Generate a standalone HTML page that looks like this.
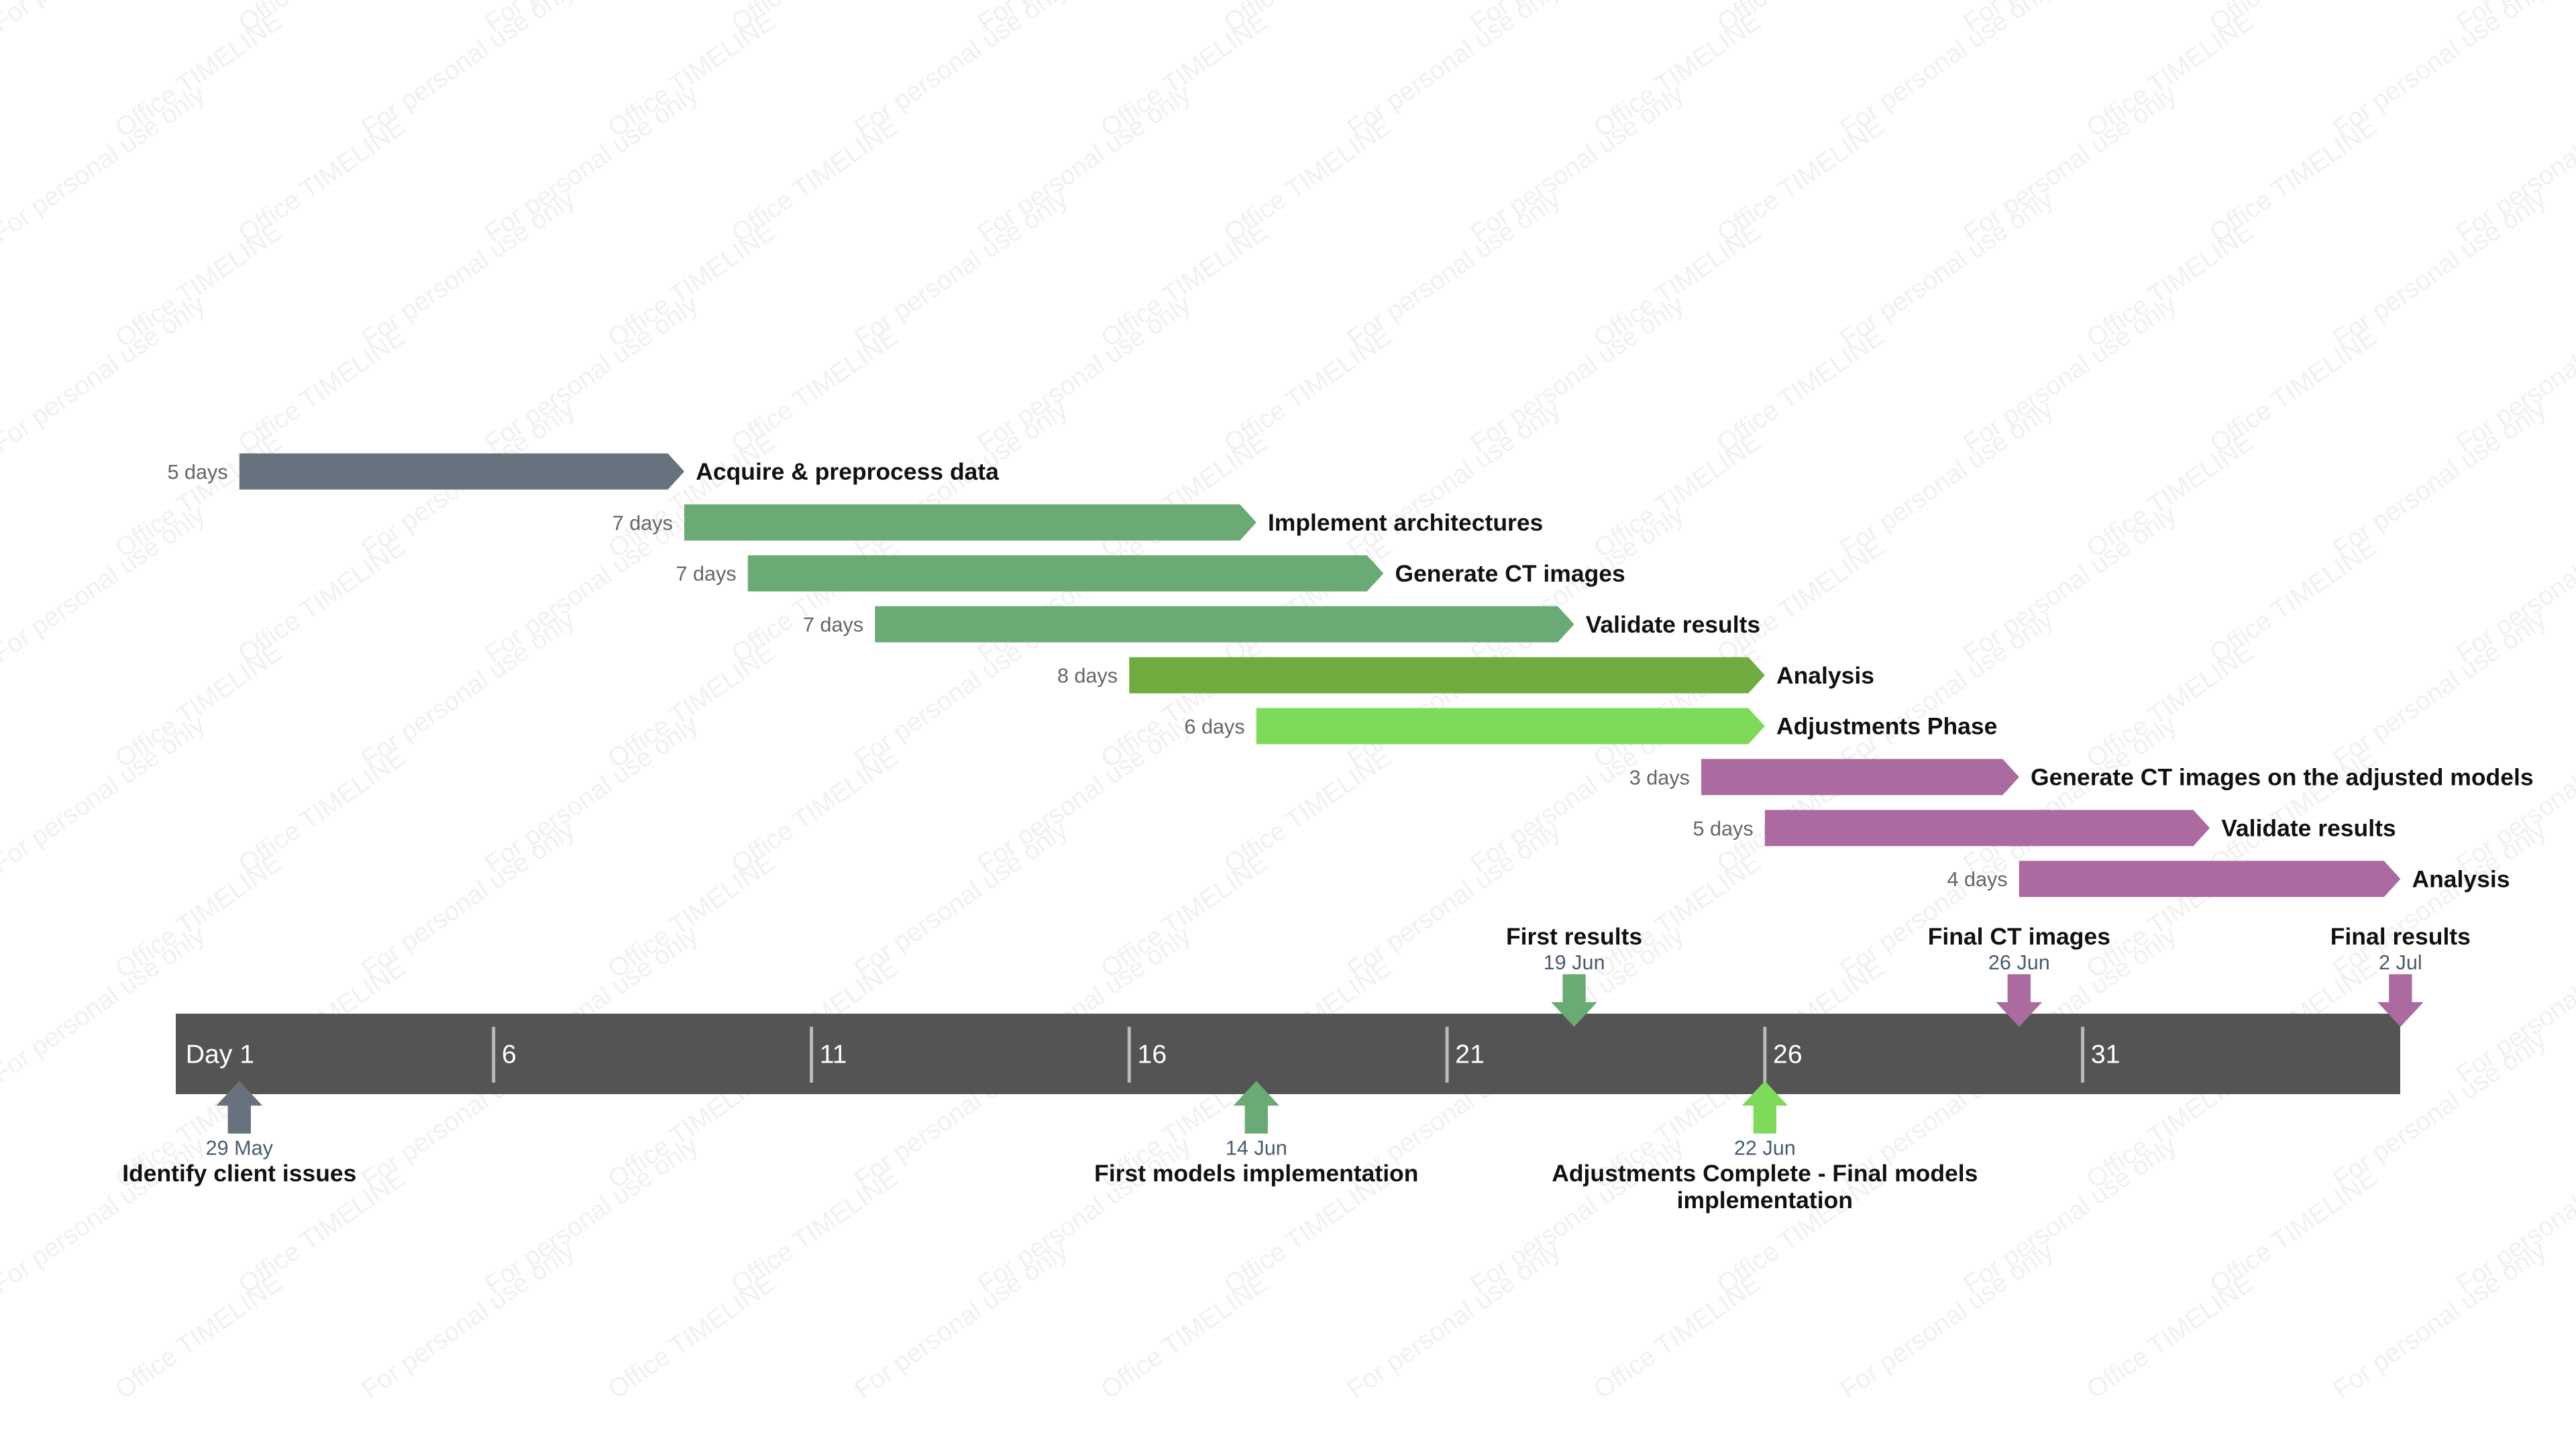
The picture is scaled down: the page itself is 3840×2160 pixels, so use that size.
<!DOCTYPE html>
<html><head><meta charset="utf-8"><style>
html,body{margin:0;padding:0;background:#fff;width:3840px;height:2160px;overflow:hidden;}
svg{display:block;font-family:"Liberation Sans",sans-serif;overflow:hidden;}
</style></head><body>
<svg id="chart" width="3840" height="2160" viewBox="0 0 1568 882" xmlns="http://www.w3.org/2000/svg">
<g id="wm"></g>
<rect x="107" y="617" width="1354" height="49" fill="#545454"/>
<g id="ticks"></g><g id="tasks"></g><g id="ms"></g>
</svg>
<script>
const NS="http://www.w3.org/2000/svg";
const tickLabels=["Day 1","6","11","16","21","26","31"];
const tickDays=[0,5,10,15,20,25,30];
const taskNames=["Acquire & preprocess data","Implement architectures","Generate CT images","Validate results","Analysis","Adjustments Phase","Generate CT images on the adjusted models","Validate results","Analysis"];
const taskStart=[1,8,9,11,15,17,24,25,29];
const taskEnd=[8,17,19,22,25,25,29,32,35];
const taskDur=["5 days","7 days","7 days","7 days","8 days","6 days","3 days","5 days","4 days"];
const taskColor=["#67727e","#6aaa74","#6aaa74","#6aaa74","#70ab3f","#7edb5a","#ab6aa0","#ab6aa0","#ab6aa0"];
const msNames=["Identify client issues","First models implementation","Adjustments Complete - Final models|implementation","First results","Final CT images","Final results"];
const msDates=["29 May","14 Jun","22 Jun","19 Jun","26 Jun","2 Jul"];
const msDay=[1,17,25,22,29,35];
const msBelow=[true,true,true,false,false,false];
const msColor=["#67727e","#6aaa74","#7edb5a","#6aaa74","#ab6aa0","#ab6aa0"];

const X0=107, PX=38.69;
const x=d=>X0+d*PX;
const rowY=i=>276+i*31;
function el(t,a,p){const e=document.createElementNS(NS,t);for(const k in a)e.setAttribute(k,a[k]);p.appendChild(e);return e;}

const wm=document.getElementById('wm');
for(let r=0;r<14;r++)for(let c=0;c<11;c++){
  const px=c*150+(r%2)*75, py=20+r*64;
  const t=el('text',{x:px,y:py,fill:'#f1f1f1','font-size':16,transform:`rotate(-35 ${px} ${py})`},wm);
  t.textContent=(r+c)%2?"Office TIMELINE":"For personal use only";
}

const tg=document.getElementById('ticks');
tickDays.forEach((d,i)=>{
  if(i>0){const l=el('line',{x1:x(d),x2:x(d),y1:625,y2:659,stroke:'#bbbbbb','stroke-width':2},tg);
  }
  const t=el('text',{x:x(d)+(i?5:6),y:647,fill:'#fff','font-size':16},tg);
  
  
  t.textContent=tickLabels[i];
});

const tk=document.getElementById('tasks');
taskNames.forEach((n,i)=>{
  const y=rowY(i),h=22,x1=x(taskStart[i]),x2=x(taskEnd[i]),a=10;
  const p=el('polygon',{points:`${x1},${y} ${x2-a},${y} ${x2},${y+h/2} ${x2-a},${y+h} ${x1},${y+h}`,fill:taskColor[i]},tk);
  
  
  const d=el('text',{x:x1-7,y:y+15.5,fill:'#666','font-size':12.5,'text-anchor':'end'},tk);
  
  
  d.textContent=taskDur[i];
  const t=el('text',{x:x2+7,y:y+16,fill:'#111','font-size':14.5,'font-weight':'bold'},tk);
  
  
  t.textContent=n;
});

const mg=document.getElementById('ms');
msNames.forEach((n,i)=>{
  const cx=x(msDay[i]),c=msColor[i];
  let pts,dy,ly;
  if(msBelow[i]){pts=`${cx},658 ${cx+14},673 ${cx+7},673 ${cx+7},690 ${cx-7},690 ${cx-7},673 ${cx-14},673`;dy=703;ly=719;}
  else{pts=`${cx-7},593 ${cx+7},593 ${cx+7},610 ${cx+14},610 ${cx},625 ${cx-14},610 ${cx-7},610`;dy=590;ly=575;}
  const p=el('polygon',{points:pts,fill:c},mg);
  
  
  const d=el('text',{x:cx,y:dy,fill:'#4a5a70','font-size':12.5,'text-anchor':'middle'},mg);
  
  
  d.textContent=msDates[i];
  n.split('|').forEach((line,j)=>{
    const t=el('text',{x:cx,y:ly+j*16.5,fill:'#111','font-size':14.5,'font-weight':'bold','text-anchor':'middle'},mg);
    
    
    t.textContent=line;
  });
});
</script>
</body></html>
